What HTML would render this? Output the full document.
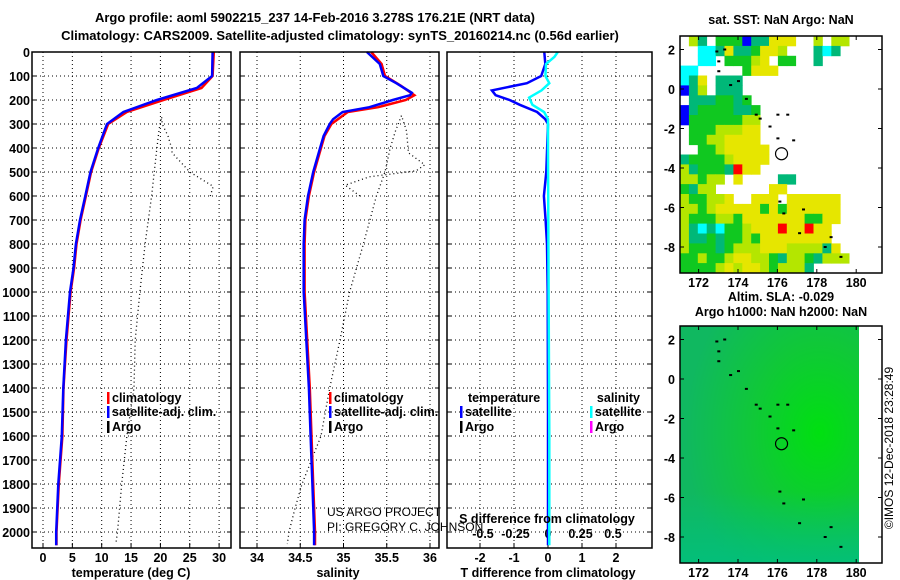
<!DOCTYPE html>
<html><head><meta charset="utf-8">
<style>
html,body{margin:0;padding:0;background:#fff;}
svg{display:block;font-family:"Liberation Sans",sans-serif;}
.b{font-weight:bold;font-size:13px;}
.t{font-weight:bold;font-size:12.5px;}
</style></head>
<body>
<svg id="c" width="900" height="580" xmlns="http://www.w3.org/2000/svg">
<text class="b" x="315" y="22" text-anchor="middle">Argo profile: aoml 5902215_237 14-Feb-2016 3.278S 176.21E (NRT data)</text>
<text class="b" x="340" y="40" text-anchor="middle">Climatology: CARS2009. Satellite-adjusted climatology: synTS_20160214.nc (0.56d earlier)</text>
<g id="g"></g>
</svg>
<script>
// depth axis
const depthTicks=[0,100,200,300,400,500,600,700,800,900,1000,1100,1200,1300,1400,1500,1600,1700,1800,1900,2000];
// temperature panel
const tempTicks=[0,5,10,15,20,25,30];
const climTDepth=[0,100,150,200,250,300,400,500,600,700,800,900,1000,1200,1400,1600,1800,2000,2055];
const climT=[29.1,28.9,27.0,20.5,14.3,11.1,9.5,8.2,7.3,6.4,5.7,5.3,4.7,4.0,3.5,3.3,2.7,2.3,2.3];
const satTDepth=[0,100,150,200,250,300,400,500,600,700,800,900,1000,1200,1400,1600,1800,2000,2055];
const satT=[28.9,28.8,26.2,19.4,13.7,10.9,9.4,8.1,7.2,6.3,5.6,5.2,4.6,3.9,3.45,3.2,2.6,2.25,2.25];
const argoTDepth=[600,560,500,420,400,350,300,270,320,400,600,800,1000,1200,1400,1600,1800,2000,2050];
const argoT=[28.5,29,25,22,21.9,21.3,20.3,20.2,19.8,19.4,18.5,17.4,16.5,15.7,15.5,14.3,13.4,12.7,12.4];
// salinity panel
const salTicks=[34,34.5,35,35.5,36];
const climSDepth=[0,50,100,140,180,200,230,250,300,350,400,500,600,700,800,1000,1200,1400,1600,1800,2000,2055];
const climS=[35.32,35.44,35.48,35.66,35.82,35.72,35.40,35.05,34.86,34.78,34.74,34.66,34.60,34.56,34.55,34.55,34.58,34.61,34.63,34.65,34.67,34.67];
const satSDepth=[0,50,100,130,170,180,200,230,250,280,300,350,400,500,600,700,800,1000,1200,1400,1600,1800,2000,2055];
const satS=[35.27,35.42,35.46,35.61,35.79,35.77,35.57,35.30,34.99,34.88,34.84,34.77,34.73,34.65,34.59,34.55,34.54,34.54,34.57,34.60,34.62,34.64,34.66,34.66];
const argoSDepth=[600,555,520,495,470,420,330,265,330,400,500,600,800,1000,1200,1400,1600,1800,1900,2000,2050];
const argoS=[35.19,35.02,35.30,35.84,35.94,35.75,35.73,35.67,35.60,35.54,35.48,35.38,35.23,35.07,34.96,34.84,34.74,34.52,34.44,34.37,34.35];
// difference panel
const tdTicks=[-2,-1,0,1,2];
const sdTicks=[-0.5,-0.25,0,0.25,0.5];
const sdTickLabels=["-0.5","-0.25","0","0.25","0.5"];
const dTDepth=[0,50,100,130,160,180,200,220,250,280,300,500,600,700,800,1000,1500,2055];
const dT=[-0.11,-0.08,-0.2,-0.62,-1.65,-1.54,-1.13,-0.83,-0.32,-0.08,0,-0.05,-0.12,-0.07,-0.03,-0.01,0,0];
const dSDepth=[0,20,50,100,130,160,190,220,250,280,400,1000,1600,2055];
const dS=[0.075,0.05,-0.015,-0.02,0.01,-0.05,-0.145,-0.12,-0.03,0,0,0.005,0.01,0.01];
// maps
const lonTicks=[172,174,176,178,180];
const latTicks=[2,0,-2,-4,-6,-8];
const sstRows=[
"wltwgggbttyyywwlwllw","wwcctyttgyylwwwtctww","wwccwggglywggwwtwwww","ccwwwwwgyyywwwwwwwww",
"ctywtttwwwwwwwwwwwww","btlwtttwwwwwwwwwwwww","wtttggtgwwwwwwwwwwww","btggggttgwwwwwwwwwww",
"bggggggllwwwwwwwwwww","wggglllyywwwwwwwwwww","wggllyyyywwwwwwwwwww","wwgglyyyyywwwwwwwwww",
"tgggglyyyywwwwwwwwww","ltgggtryywwwwwwwwwww","llgllwywwwwttwwwwwww","gtllwwwwwwyywwwwwwww",
"lggllywwyyywyyyyyyww","llglyyyyygygyyyyyyww","lgggllgyyyyyyyggyyww","ltctcgglyyyryyryywww",
"lttgtgglgyyyyyyyywww","lgggtglllyyylllltyww","gglgglyyllgtllgtlllw","gggglylyylgllltwwwww"];
const islandLon=[172.9,173.0,173.3,173.0,173.6,174.0,174.4,174.9,175.1,175.6,176.0,176.5,176.0,176.8,176.1,176.3,177.3,177.1,178.7,178.4,179.2];
const islandLat=[1.9,1.4,2.0,0.9,0.2,0.4,-0.5,-1.3,-1.5,-1.9,-1.3,-1.3,-2.5,-2.6,-5.7,-6.3,-6.1,-7.3,-7.5,-8.0,-8.5];
const profLon=176.21, profLat=-3.278;

const NS="http://www.w3.org/2000/svg";
const G=document.getElementById('g');
function mk(tag,attrs,parent){const e=document.createElementNS(NS,tag);for(const k in attrs)e.setAttribute(k,attrs[k]);(parent||G).appendChild(e);return e;}
function txt(x,y,s,cls,anchor,extra){const e=mk('text',Object.assign({x:x,y:y,'text-anchor':anchor||'middle'},extra||{}));if(cls)e.setAttribute('class',cls);e.textContent=s;return e;}

const PT=52,PB=548;
function yD(d){return 52+d*0.24;}
const panels=[{l:32,r:231},{l:240,r:439},{l:447,r:652}];
function xT(v){return 43+v*5.87;}
function xS(v){return 257+(v-34)*86.5;}
function xTD(v){return 548+v*34;}
function xSD(v){return 548+v*130;}

function line(xs,ds,fx,color,w,dash,name){
  const pts=xs.map((v,i)=>fx(v).toFixed(1)+','+yD(ds[i]).toFixed(1)).join(' ');
  const e=mk('polyline',{points:pts,fill:'none',stroke:color,'stroke-width':w});
  if(dash)e.setAttribute('stroke-dasharray',dash);
  
  
  return e;
}

panels.forEach((p,pi)=>{
  depthTicks.forEach(d=>{
    const l=mk('line',{x1:p.l,x2:p.r,y1:yD(d),y2:yD(d),stroke:'#000','stroke-width':1,'stroke-dasharray':'1,3'});
    
    
    mk('line',{x1:p.l,x2:p.l+4,y1:yD(d),y2:yD(d),stroke:'#000'});
    mk('line',{x1:p.r-4,x2:p.r,y1:yD(d),y2:yD(d),stroke:'#000'});
  });
});
depthTicks.forEach(d=>{
  const t=txt(30,yD(d)+5,String(d),'t','end');
  
  
});
function vgrid(ticks,fx,labels,ly,name){
  ticks.forEach((v,i)=>{
    const x=fx(v);
    mk('line',{x1:x,x2:x,y1:PT,y2:PB,stroke:'#000','stroke-dasharray':'1,3'});
    mk('line',{x1:x,x2:x,y1:PB-5,y2:PB,stroke:'#000'});
    if(ly){const t=txt(x,ly,labels?labels[i]:String(v),'t','middle');
      
      }
  });
}
vgrid(tempTicks,xT,null,562,'temperature-tick-label');
vgrid(salTicks,xS,null,562,'salinity-tick-label');
vgrid(tdTicks,xTD,null,562,'t-difference-tick-label');
sdTicks.forEach((v,i)=>{const t=txt(xSD(v),538,sdTickLabels[i],'t','middle');
  
  });

line(argoT,argoTDepth,xT,'#000',1.3,'1,3','argo-temperature-line');
line(climT,climTDepth,xT,'#f00',2.5,null,'climatology-temperature-line');
line(satT,satTDepth,xT,'#00f',2.5,null,'satellite-temperature-line');
line(argoS,argoSDepth,xS,'#000',1.3,'1,3','argo-salinity-line');
line(climS,climSDepth,xS,'#f00',2.5,null,'climatology-salinity-line');
line(satS,satSDepth,xS,'#00f',2.5,null,'satellite-salinity-line');
line(dT,dTDepth,xTD,'#00f',2.5,null,'t-difference-line');
line(dS,dSDepth,xSD,'#0ff',2.5,null,'s-difference-line');

panels.forEach((p,pi)=>{
  const r=mk('rect',{x:p.l,y:PT,width:p.r-p.l,height:PB-PT,fill:'none',stroke:'#000','stroke-width':1.5});
  
  
});

[[131,577,'temperature (deg C)','temperature-axis-title'],[338,577,'salinity','salinity-axis-title'],[548,577,'T difference from climatology','t-difference-axis-title']].forEach(a=>{
  const t=txt(a[0],a[1],a[2],'t','middle');});
{const t=txt(547,523,'S difference from climatology','t','middle');}
{const t=txt(327,516,'US ARGO PROJECT','','start',{'font-size':'12'});}
{const t=txt(327,531,'PI: GREGORY C. JOHNSON','','start',{'font-size':'12'});}

function legend(x,y,color,label,name){
  const r=mk('rect',{x:x,y:y-10,width:2.5,height:12,fill:color});
  const t=txt(x+5,y,label,'t','start');
  
  
  
  
}
legend(107,402,'#f00','climatology','legend-climatology');
legend(107,416,'#00f','satellite-adj. clim.','legend-satellite');
legend(107,431,'#000','Argo','legend-argo');
legend(329,402,'#f00','climatology','legend-climatology-sal');
legend(329,416,'#00f','satellite-adj. clim.','legend-satellite-sal');
legend(329,431,'#000','Argo','legend-argo-sal');
{const t=txt(468,402,'temperature','t','start');}
{const t=txt(640,402,'salinity','t','end');}
legend(460,416,'#00f','satellite','legend-t-satellite');
legend(460,431,'#000','Argo','legend-t-argo');
legend(590,416,'#0ff','satellite','legend-s-satellite');
legend(590,431,'#f0f','Argo','legend-s-argo');

const mapL=680,mapR=882,dataR=858;
function xLon(v){return 698.6+(v-172)*19.7;}
function mkMap(mt,mb,lat2y){
  return {yLat:v=>lat2y+(2-v)*19.75,mt:mt,mb:mb};
}
const m1=mkMap(36,273,49.5), m2=mkMap(326,563,339.5);
const cols={y:'#e6e600',l:'#b4e600',g:'#10c820',t:'#00b878',c:'#00ffff',b:'#0000ff',r:'#ff0000'};
const cw=(dataR-mapL)/20, ch=(m1.mb-m1.mt)/24;
sstRows.forEach((row,ri)=>{
  for(let ci=0;ci<row.length;ci++){
    const k=row[ci]; if(k==='w')continue;
    const e=mk('rect',{x:(mapL+ci*cw).toFixed(1),y:(m1.mt+ri*ch).toFixed(1),width:(cw+0.4).toFixed(1),height:(ch+0.4).toFixed(1),fill:cols[k]});
    
    
  }
});
const defs=mk('defs',{});
const rg=mk('radialGradient',{id:'sla',cx:'0.78',cy:'0.45',r:'0.75'},defs);
mk('stop',{offset:'0','stop-color':'#00e010'},rg);
mk('stop',{offset:'0.5','stop-color':'#10c838'},rg);
mk('stop',{offset:'1','stop-color':'#10b860'},rg);
const lg=mk('linearGradient',{id:'sla2',x1:'0',y1:'0',x2:'0',y2:'1'},defs);
mk('stop',{offset:'0.7','stop-color':'#00c080','stop-opacity':'0'},lg);
mk('stop',{offset:'1','stop-color':'#00c080','stop-opacity':'0.8'},lg);
{const e=mk('rect',{x:mapL,y:m2.mt,width:dataR+1-mapL,height:m2.mb-m2.mt,fill:'url(#sla)'});}
mk('rect',{x:mapL,y:m2.mt,width:dataR+1-mapL,height:m2.mb-m2.mt,fill:'url(#sla2)'});

[[m1,'sst-map'],[m2,'sla-map']].forEach(([m,nm])=>{
  islandLon.forEach((lo,i)=>{mk('rect',{x:xLon(lo)-1,y:m.yLat(islandLat[i])-1,width:3,height:2,fill:'#000'});});
  const c=mk('circle',{cx:xLon(profLon),cy:m.yLat(profLat),r:6,fill:'none',stroke:'#000','stroke-width':1.2});
  
  
  const f=mk('rect',{x:mapL,y:m.mt,width:mapR-mapL,height:m.mb-m.mt,fill:'none',stroke:'#000','stroke-width':1.5});
  
  
  lonTicks.forEach(v=>{const x=xLon(v);
    mk('line',{x1:x,x2:x,y1:m.mt,y2:m.mt+4,stroke:'#000'});mk('line',{x1:x,x2:x,y1:m.mb-4,y2:m.mb,stroke:'#000'});
    const t=txt(x,m.mb+14,String(v),'t','middle');});
  latTicks.forEach(v=>{const y=m.yLat(v);
    mk('line',{x1:mapL,x2:mapL+4,y1:y,y2:y,stroke:'#000'});mk('line',{x1:mapR-4,x2:mapR,y1:y,y2:y,stroke:'#000'});
    const t=txt(675,y+5,String(v),'t','end');});
});
{const t=txt(781,24,'sat. SST: NaN Argo: NaN','t','middle');}
{const t=txt(781,301,'Altim. SLA: -0.029','t','middle');}
{const t=txt(781,316,'Argo h1000: NaN h2000: NaN','t','middle');}
{const t=txt(0,0,'©IMOS 12-Dec-2018 23:28:49','','middle',{'font-size':'12',transform:'translate(893,448) rotate(-90)'});}
</script>
</body></html>
